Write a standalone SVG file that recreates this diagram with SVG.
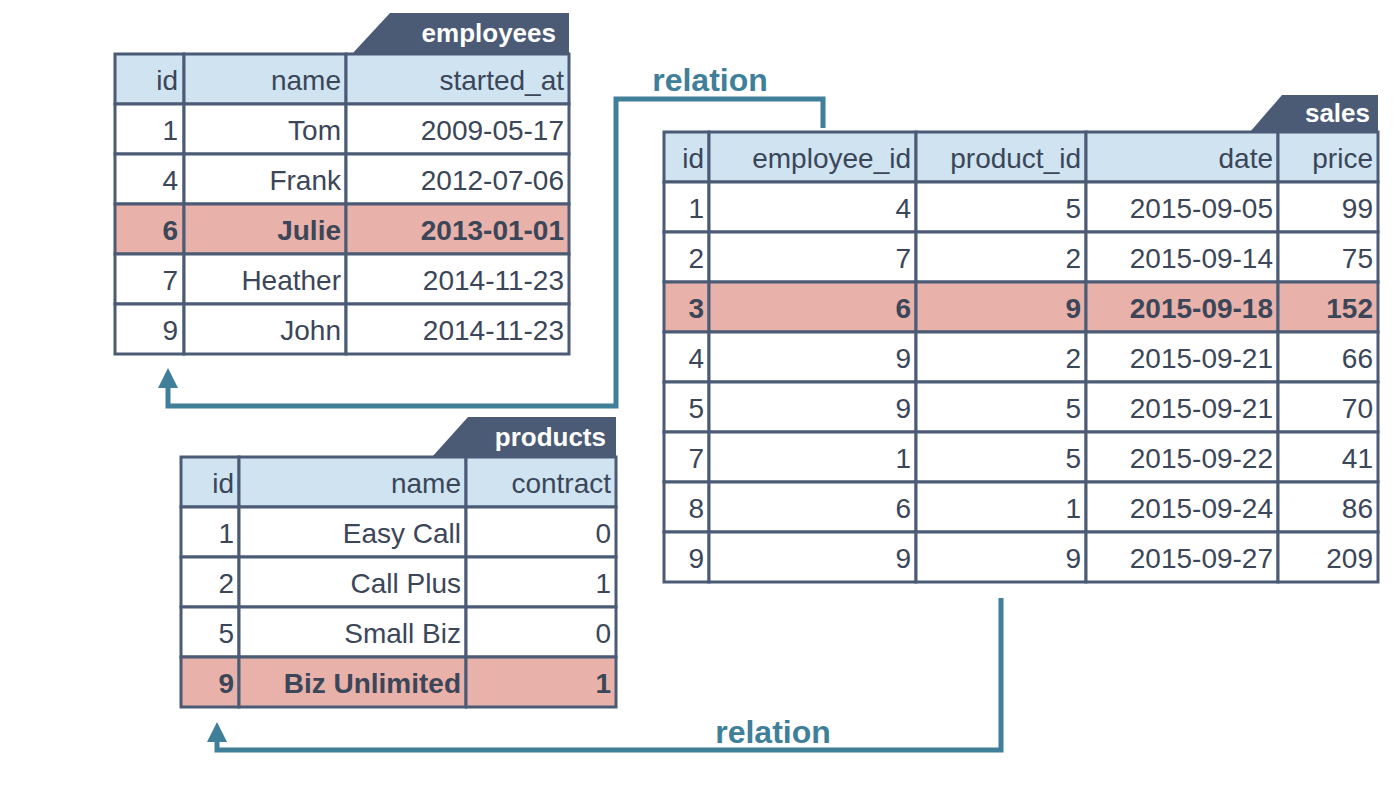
<svg xmlns="http://www.w3.org/2000/svg" width="1400" height="800" viewBox="0 0 1400 800">
<defs>
<style>
text{font-family:"Liberation Sans",Arial,sans-serif;font-size:28px;fill:#3b4658}
.c{fill:#fff;stroke:#4b5b75;stroke-width:3}
.h{fill:#cfe3f1;stroke:#4b5b75;stroke-width:3}
.r{fill:#e8b1a9;stroke:#4b5b75;stroke-width:3}
.b{font-weight:bold}
.t{fill:#4b5b75}
.tt{fill:#fff;font-weight:bold;font-size:26px}
.rel{fill:#3f7f9a;font-weight:bold;font-size:32px}
.ln{fill:none;stroke:#3f7f9a;stroke-width:5}
</style>
<marker id="ah" viewBox="0 0 10 10" refX="5" refY="9" markerWidth="5" markerHeight="5" orient="auto-start-reverse" markerUnits="userSpaceOnUse"><path d="M0 10L5 0L10 10Z" fill="#3f7f9a"/></marker>
</defs>
<g id="connectors">
<path class="ln" d="M823 128V99H616V406H168V375"/>
<polygon points="158,388 168,368 178,388" fill="#3f7f9a"/>
<path class="ln" d="M1001 598V750H217V740"/>
<polygon points="207,742 217,722 227,742" fill="#3f7f9a"/>
<text class="rel" x="710" y="91" text-anchor="middle">relation</text>
<text class="rel" x="773" y="743" text-anchor="middle">relation</text>
</g>
<g id="employees" text-anchor="end">
<path class="t" d="M352 54L390 13H569V54Z"/>
<text class="tt" x="556" y="42">employees</text>
<rect class="h" x="115" y="54" width="69" height="50"/><rect class="h" x="184" y="54" width="162" height="50"/><rect class="h" x="346" y="54" width="223" height="50"/>
<text x="178" y="90">id</text><text x="341" y="90">name</text><text x="564" y="90">started_at</text>
<g>
<rect class="c" x="115" y="104" width="69" height="50"/><rect class="c" x="184" y="104" width="162" height="50"/><rect class="c" x="346" y="104" width="223" height="50"/>
<text x="178" y="140">1</text><text x="341" y="140">Tom</text><text x="564" y="140">2009-05-17</text>
<rect class="c" x="115" y="154" width="69" height="50"/><rect class="c" x="184" y="154" width="162" height="50"/><rect class="c" x="346" y="154" width="223" height="50"/>
<text x="178" y="190">4</text><text x="341" y="190">Frank</text><text x="564" y="190">2012-07-06</text>
<rect class="r" x="115" y="204" width="69" height="50"/><rect class="r" x="184" y="204" width="162" height="50"/><rect class="r" x="346" y="204" width="223" height="50"/>
<text class="b" x="178" y="240">6</text><text class="b" x="341" y="240">Julie</text><text class="b" x="564" y="240">2013-01-01</text>
<rect class="c" x="115" y="254" width="69" height="50"/><rect class="c" x="184" y="254" width="162" height="50"/><rect class="c" x="346" y="254" width="223" height="50"/>
<text x="178" y="290">7</text><text x="341" y="290">Heather</text><text x="564" y="290">2014-11-23</text>
<rect class="c" x="115" y="304" width="69" height="50"/><rect class="c" x="184" y="304" width="162" height="50"/><rect class="c" x="346" y="304" width="223" height="50"/>
<text x="178" y="340">9</text><text x="341" y="340">John</text><text x="564" y="340">2014-11-23</text>
</g>
</g>
<g id="sales" text-anchor="end">
<path class="t" d="M1250 132L1282 95H1378V132Z"/>
<text class="tt" x="1370" y="122">sales</text>
<rect class="h" x="664" y="132" width="45" height="50"/><rect class="h" x="709" y="132" width="207" height="50"/><rect class="h" x="916" y="132" width="170" height="50"/><rect class="h" x="1086" y="132" width="192" height="50"/><rect class="h" x="1278" y="132" width="100" height="50"/>
<text x="704" y="168">id</text><text x="911" y="168">employee_id</text><text x="1081" y="168">product_id</text><text x="1273" y="168">date</text><text x="1373" y="168">price</text>
<rect class="c" x="664" y="182" width="45" height="50"/><rect class="c" x="709" y="182" width="207" height="50"/><rect class="c" x="916" y="182" width="170" height="50"/><rect class="c" x="1086" y="182" width="192" height="50"/><rect class="c" x="1278" y="182" width="100" height="50"/>
<text x="704" y="218">1</text><text x="911" y="218">4</text><text x="1081" y="218">5</text><text x="1273" y="218">2015-09-05</text><text x="1373" y="218">99</text>
<rect class="c" x="664" y="232" width="45" height="50"/><rect class="c" x="709" y="232" width="207" height="50"/><rect class="c" x="916" y="232" width="170" height="50"/><rect class="c" x="1086" y="232" width="192" height="50"/><rect class="c" x="1278" y="232" width="100" height="50"/>
<text x="704" y="268">2</text><text x="911" y="268">7</text><text x="1081" y="268">2</text><text x="1273" y="268">2015-09-14</text><text x="1373" y="268">75</text>
<rect class="r" x="664" y="282" width="45" height="50"/><rect class="r" x="709" y="282" width="207" height="50"/><rect class="r" x="916" y="282" width="170" height="50"/><rect class="r" x="1086" y="282" width="192" height="50"/><rect class="r" x="1278" y="282" width="100" height="50"/>
<text class="b" x="704" y="318">3</text><text class="b" x="911" y="318">6</text><text class="b" x="1081" y="318">9</text><text class="b" x="1273" y="318">2015-09-18</text><text class="b" x="1373" y="318">152</text>
<rect class="c" x="664" y="332" width="45" height="50"/><rect class="c" x="709" y="332" width="207" height="50"/><rect class="c" x="916" y="332" width="170" height="50"/><rect class="c" x="1086" y="332" width="192" height="50"/><rect class="c" x="1278" y="332" width="100" height="50"/>
<text x="704" y="368">4</text><text x="911" y="368">9</text><text x="1081" y="368">2</text><text x="1273" y="368">2015-09-21</text><text x="1373" y="368">66</text>
<rect class="c" x="664" y="382" width="45" height="50"/><rect class="c" x="709" y="382" width="207" height="50"/><rect class="c" x="916" y="382" width="170" height="50"/><rect class="c" x="1086" y="382" width="192" height="50"/><rect class="c" x="1278" y="382" width="100" height="50"/>
<text x="704" y="418">5</text><text x="911" y="418">9</text><text x="1081" y="418">5</text><text x="1273" y="418">2015-09-21</text><text x="1373" y="418">70</text>
<rect class="c" x="664" y="432" width="45" height="50"/><rect class="c" x="709" y="432" width="207" height="50"/><rect class="c" x="916" y="432" width="170" height="50"/><rect class="c" x="1086" y="432" width="192" height="50"/><rect class="c" x="1278" y="432" width="100" height="50"/>
<text x="704" y="468">7</text><text x="911" y="468">1</text><text x="1081" y="468">5</text><text x="1273" y="468">2015-09-22</text><text x="1373" y="468">41</text>
<rect class="c" x="664" y="482" width="45" height="50"/><rect class="c" x="709" y="482" width="207" height="50"/><rect class="c" x="916" y="482" width="170" height="50"/><rect class="c" x="1086" y="482" width="192" height="50"/><rect class="c" x="1278" y="482" width="100" height="50"/>
<text x="704" y="518">8</text><text x="911" y="518">6</text><text x="1081" y="518">1</text><text x="1273" y="518">2015-09-24</text><text x="1373" y="518">86</text>
<rect class="c" x="664" y="532" width="45" height="50"/><rect class="c" x="709" y="532" width="207" height="50"/><rect class="c" x="916" y="532" width="170" height="50"/><rect class="c" x="1086" y="532" width="192" height="50"/><rect class="c" x="1278" y="532" width="100" height="50"/>
<text x="704" y="568">9</text><text x="911" y="568">9</text><text x="1081" y="568">9</text><text x="1273" y="568">2015-09-27</text><text x="1373" y="568">209</text>
</g>
<g id="products" text-anchor="end">
<path class="t" d="M432 457L468 417H616V457Z"/>
<text class="tt" x="606" y="446">products</text>
<rect class="h" x="181" y="457" width="58" height="50"/><rect class="h" x="239" y="457" width="227" height="50"/><rect class="h" x="466" y="457" width="150" height="50"/>
<text x="234" y="493">id</text><text x="461" y="493">name</text><text x="611" y="493">contract</text>
<rect class="c" x="181" y="507" width="58" height="50"/><rect class="c" x="239" y="507" width="227" height="50"/><rect class="c" x="466" y="507" width="150" height="50"/>
<text x="234" y="543">1</text><text x="461" y="543">Easy Call</text><text x="611" y="543">0</text>
<rect class="c" x="181" y="557" width="58" height="50"/><rect class="c" x="239" y="557" width="227" height="50"/><rect class="c" x="466" y="557" width="150" height="50"/>
<text x="234" y="593">2</text><text x="461" y="593">Call Plus</text><text x="611" y="593">1</text>
<rect class="c" x="181" y="607" width="58" height="50"/><rect class="c" x="239" y="607" width="227" height="50"/><rect class="c" x="466" y="607" width="150" height="50"/>
<text x="234" y="643">5</text><text x="461" y="643">Small Biz</text><text x="611" y="643">0</text>
<rect class="r" x="181" y="657" width="58" height="50"/><rect class="r" x="239" y="657" width="227" height="50"/><rect class="r" x="466" y="657" width="150" height="50"/>
<text class="b" x="234" y="693">9</text><text class="b" x="461" y="693">Biz Unlimited</text><text class="b" x="611" y="693">1</text>
</g>
</svg>
